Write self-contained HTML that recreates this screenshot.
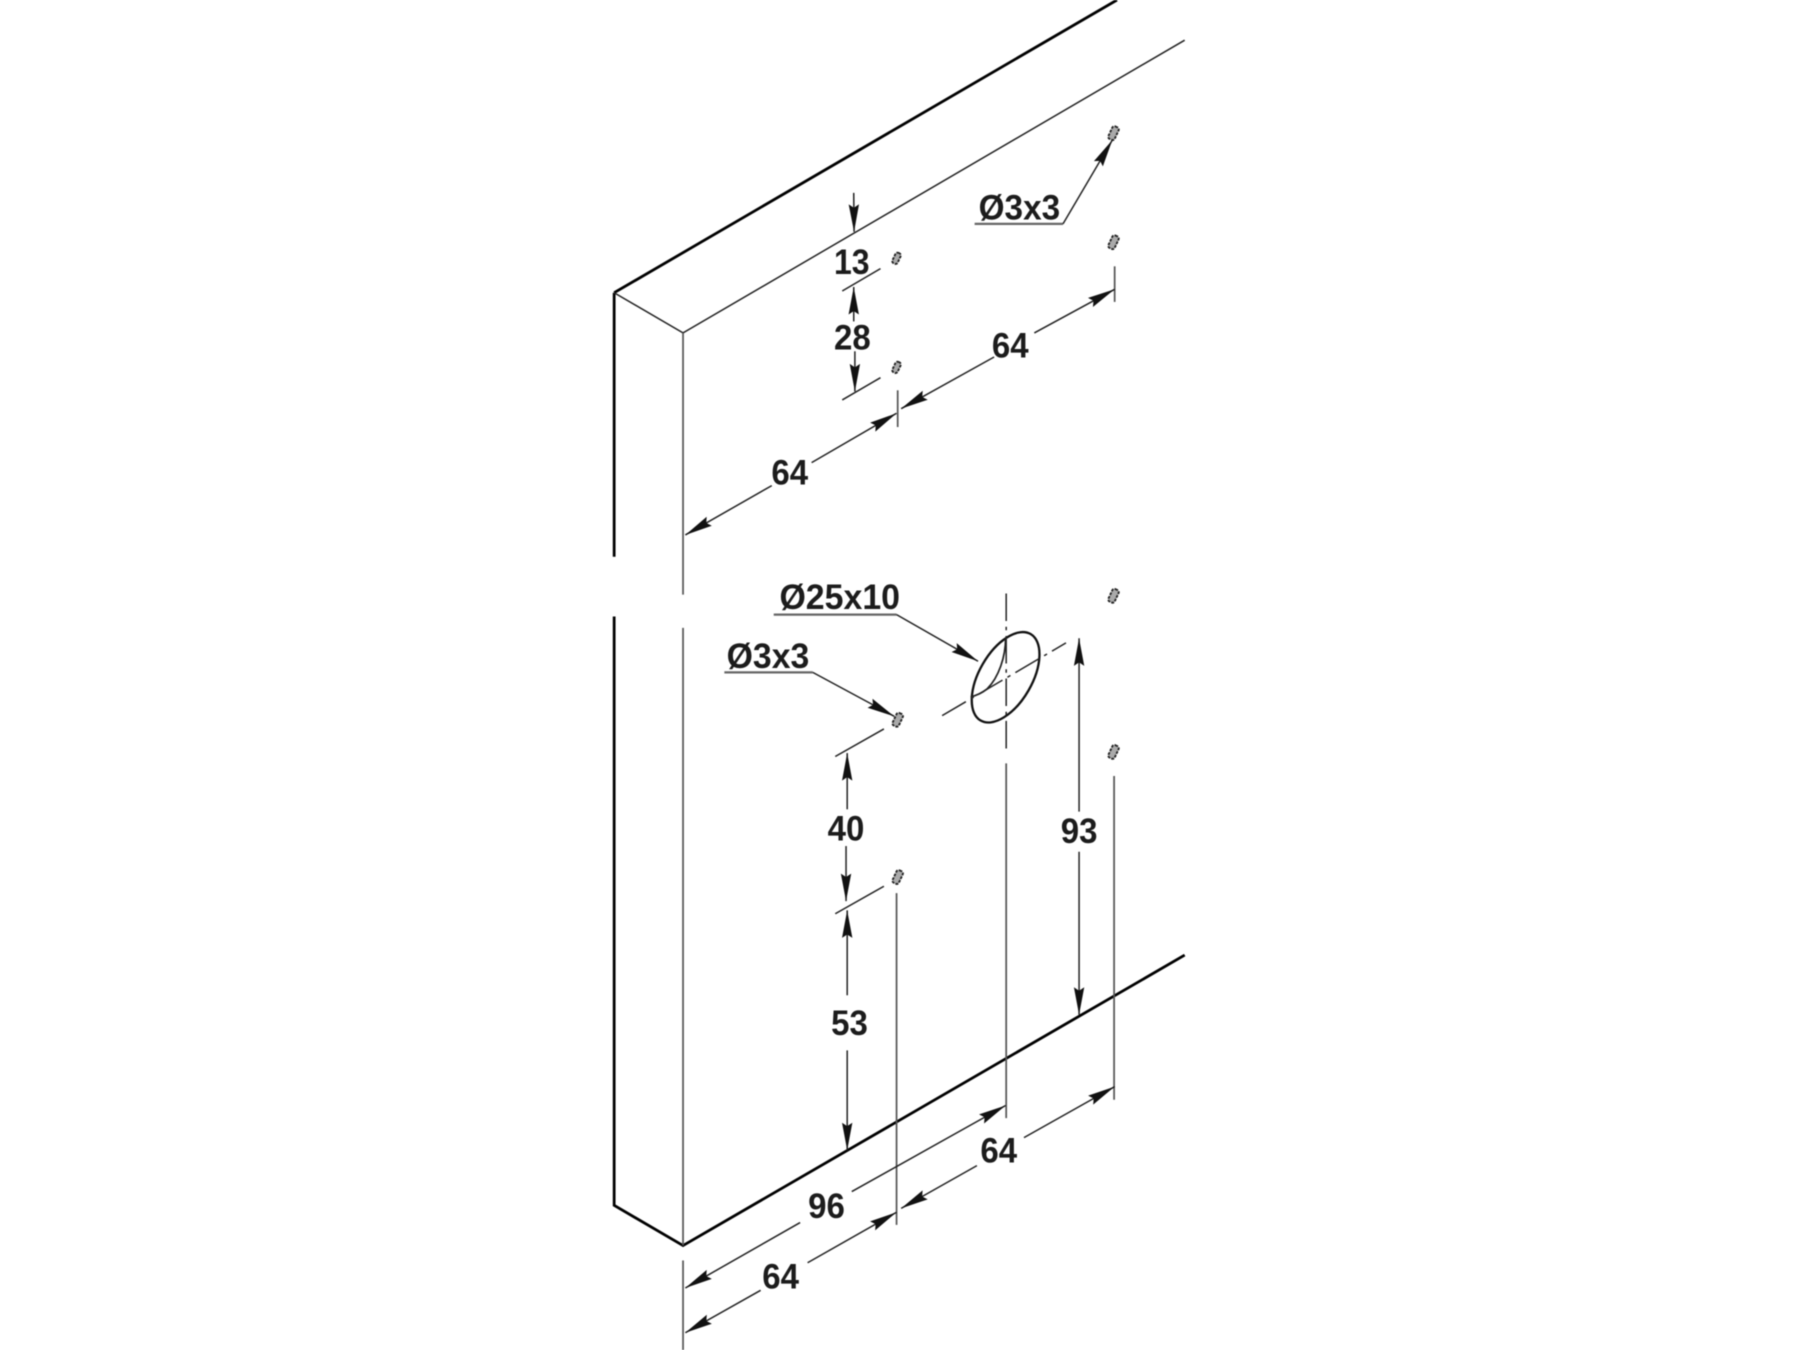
<!DOCTYPE html>
<html>
<head>
<meta charset="utf-8">
<style>
html,body{margin:0;padding:0;background:#fff;width:1800px;height:1350px;overflow:hidden}
svg{display:block;filter:blur(0.4px)}
text{font-family:"Liberation Sans",Arial,sans-serif;font-weight:bold;font-size:31px;fill:#1c1c1c;text-anchor:middle}
.k{stroke:#000;stroke-width:2.4;fill:none}
.t{stroke:#222;stroke-width:1.3;fill:none}
.g{stroke:#555;stroke-width:1.5;fill:none}
.d{stroke:#222;stroke-width:1.3;fill:none;marker-end:url(#a)}
.u{stroke:#666;stroke-width:2;fill:none}
.h rect{fill:#aaa;stroke:#222;stroke-width:1.6;stroke-dasharray:2.5 1}
</style>
</head>
<body>
<svg width="1800" height="1350" viewBox="0 0 1568 1176" xmlns="http://www.w3.org/2000/svg">
<defs>
<marker id="a" markerUnits="userSpaceOnUse" markerWidth="26" markerHeight="10" refX="24" refY="4.5" orient="auto" viewBox="0 0 26 10" overflow="visible">
<polygon points="0,0 24,4.5 0,9 3,4.5" fill="#111"/>
</marker>
</defs>
<rect width="1568" height="1176" fill="#fff"/>

<!-- body -->
<path class="k" d="M535,255 L973,0"/>
<path class="k" d="M535,255 V485"/>
<path class="k" d="M535,537 V1050 L595,1085 L1032,832"/>
<path class="t" d="M535,255 L595,290 L1032,35"/>
<path class="g" d="M595,290 V518"/>
<path class="g" d="M595,547 V1085"/>
<path class="g" d="M595,1098 V1176"/>

<!-- small holes -->
<g class="h">
<rect x="778.5" y="220" width="5" height="10" rx="2" transform="rotate(25 781 225)"/>
<rect x="778.5" y="315" width="5" height="10" rx="2" transform="rotate(25 781 320)"/>
<rect x="967" y="110" width="6" height="12" rx="2" transform="rotate(25 970 116)"/>
<rect x="967" y="205" width="6" height="12" rx="2" transform="rotate(25 970 211)"/>
<rect x="967" y="513" width="6" height="12" rx="2" transform="rotate(25 970 519)"/>
<rect x="967" y="649" width="6" height="12" rx="2" transform="rotate(25 970 655)"/>
<rect x="779" y="621" width="6" height="12" rx="2" transform="rotate(25 782 627)"/>
<rect x="779" y="758" width="6" height="12" rx="2" transform="rotate(25 782 764)"/>
</g>

<!-- extension lines -->
<path class="t" d="M733.7,253.5 L767,234"/>
<path class="t" d="M733.7,348.4 L767,329"/>
<path class="g" d="M971,232 V263"/>
<path class="g" d="M782,340 V372"/>
<path class="t" d="M727.6,659 L770,635"/>
<path class="t" d="M727.6,796 L770,772"/>
<path class="g" d="M781,778 V1067"/>
<path class="g" d="M970.5,676 V958"/>
<path class="g" d="M876.5,665 V974"/>

<!-- large hole -->
<ellipse cx="876" cy="590" rx="43.5" ry="23" transform="rotate(-60 876 590)" fill="#fff" stroke="#111" stroke-width="2"/>
<path d="M876,556 C876,572 870,590 860,600 C855,604 850,606 845.5,607" fill="none" stroke="#222" stroke-width="1.5"/>
<path class="t" d="M876.5,517 V655" stroke-dasharray="24 5 3 5"/>
<path class="t" d="M820.7,623.4 L928.6,560" stroke-dasharray="24 5 3 5"/>

<!-- dimensions -->
<path class="d" d="M743.7,168 L744,202"/>
<path class="d" d="M743.7,280 L743.7,250"/>
<path class="d" d="M744.7,306 L744.7,341"/>
<path class="d" d="M901,290 L971,252"/>
<path class="d" d="M866,311 L785,356"/>
<path class="d" d="M707,403 L781,360"/>
<path class="d" d="M672.3,423 L597,466"/>
<path class="d" d="M738,705 L738,656"/>
<path class="d" d="M737,737 L737,785"/>
<path class="d" d="M738,867 L738,793"/>
<path class="d" d="M738,915 L738,1002"/>
<path class="d" d="M940,707 L940,556"/>
<path class="d" d="M940,742 L940,884"/>
<path class="d" d="M742,1038 L876,963"/>
<path class="d" d="M697,1065 L597,1122"/>
<path class="d" d="M892,991 L971,946.6"/>
<path class="d" d="M851,1015.4 L785,1052.6"/>
<path class="d" d="M703.5,1100 L781,1056"/>
<path class="d" d="M662.6,1124 L597,1161"/>

<!-- leaders -->
<path class="u" d="M849,195 H926"/>
<path class="d" d="M926,195 L969,122"/>
<path class="u" d="M674,535.4 H781"/>
<path class="d" d="M781,535.4 L852,576"/>
<path class="u" d="M631,585.7 H708"/>
<path class="d" d="M708,585.7 L779,624"/>

<!-- labels -->
<text x="742" y="238.5" textLength="31" lengthAdjust="spacingAndGlyphs">13</text>
<text x="742.5" y="304.5" textLength="32" lengthAdjust="spacingAndGlyphs">28</text>
<text x="880" y="311.5" textLength="32" lengthAdjust="spacingAndGlyphs">64</text>
<text x="688" y="422" textLength="32" lengthAdjust="spacingAndGlyphs">64</text>
<text x="888" y="191" textLength="71" lengthAdjust="spacingAndGlyphs">Ø3x3</text>
<text x="731.5" y="530.5" textLength="105" lengthAdjust="spacingAndGlyphs">Ø25x10</text>
<text x="669" y="582" textLength="72" lengthAdjust="spacingAndGlyphs">Ø3x3</text>
<text x="737" y="732" textLength="32" lengthAdjust="spacingAndGlyphs">40</text>
<text x="940" y="734.5" textLength="32" lengthAdjust="spacingAndGlyphs">93</text>
<text x="740" y="901.5" textLength="32" lengthAdjust="spacingAndGlyphs">53</text>
<text x="720" y="1061" textLength="32" lengthAdjust="spacingAndGlyphs">96</text>
<text x="870" y="1012.5" textLength="32" lengthAdjust="spacingAndGlyphs">64</text>
<text x="680" y="1122.5" textLength="32" lengthAdjust="spacingAndGlyphs">64</text>
</svg>
</body>
</html>
